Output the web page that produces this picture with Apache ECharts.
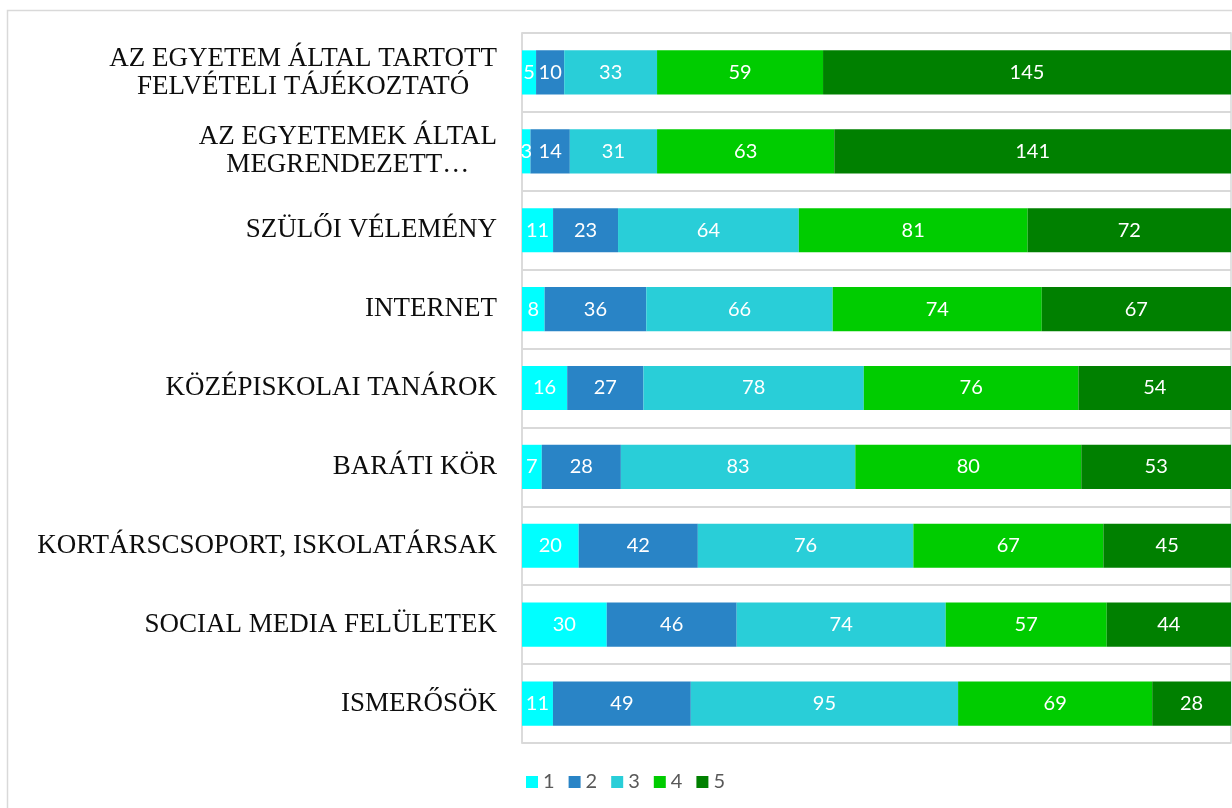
<!DOCTYPE html>
<html>
<head>
<meta charset="utf-8">
<script src="https://cdn.jsdelivr.net/npm/echarts@6/dist/echarts.min.js"></script>
<style>
html,body{margin:0;padding:0;background:#fff;}
#chart{width:1232px;height:808px;}
</style>
</head>
<body>
<div id="chart"></div>
<script>
const categories = [
  "AZ EGYETEM ÁLTAL TARTOTT\nFELVÉTELI TÁJÉKOZTATÓ",
  "AZ EGYETEMEK ÁLTAL\nMEGRENDEZETT…",
  "SZÜLŐI VÉLEMÉNY",
  "INTERNET",
  "KÖZÉPISKOLAI TANÁROK",
  "BARÁTI KÖR",
  "KORTÁRSCSOPORT, ISKOLATÁRSAK",
  "SOCIAL MEDIA FELÜLETEK",
  "ISMERŐSÖK"
];
const seriesNames = ["1", "2", "3", "4", "5"];
const s1 = [5, 3, 11, 8, 16, 7, 20, 30, 11];
const s2 = [10, 14, 23, 36, 27, 28, 42, 46, 49];
const s3 = [33, 31, 64, 66, 78, 83, 76, 74, 95];
const s4 = [59, 63, 81, 74, 76, 80, 67, 57, 69];
const s5 = [145, 141, 72, 67, 54, 53, 45, 44, 28];
const colors = ["#00FFFF", "#2984C6", "#29CED8", "#00CC00", "#008000"];

const all = [s1, s2, s3, s4, s5];
const totals = categories.map((_, i) => all.reduce((a, s) => a + s[i], 0));

const series = all.map((vals, k) => ({
  name: seriesNames[k],
  type: 'bar',
  stack: 'total',
  barCategoryGap: '44%',
  itemStyle: { color: colors[k] },
  label: {
    show: true,
    position: 'inside',
    color: '#ffffff',
    fontFamily: 'Lato',
    fontSize: 20,
    formatter: p => String(vals[p.dataIndex])
  },
  data: vals.map((v, i) => v / totals[i] * 100)
}));

const chart = echarts.init(document.getElementById('chart'));
chart.setOption({
  animation: false,
  backgroundColor: '#ffffff',
  graphic: [{
    type: 'rect',
    shape: { x: 7.5, y: 10.5, width: 1240, height: 830 },
    style: { fill: 'none', stroke: '#D9D9D9', lineWidth: 1.5 },
    silent: true,
    z: -1
  }],
  grid: {
    left: 522, right: 1, top: 33, bottom: 65,
    show: true, borderColor: '#D9D9D9', borderWidth: 1.5,
    containLabel: false
  },
  legend: {
    data: seriesNames,
    left: 521,
    top: 767,
    itemWidth: 12,
    itemHeight: 12,
    itemGap: 14,
    icon: 'rect',
    textStyle: { fontFamily: 'Lato', fontSize: 20, color: '#595959' }
  },
  xAxis: {
    type: 'value',
    min: 0,
    max: 100,
    show: false
  },
  yAxis: {
    type: 'category',
    data: categories,
    inverse: true,
    axisLine: { show: true, lineStyle: { color: '#D9D9D9', width: 1.5 } },
    axisTick: { show: false },
    splitLine: { show: true, lineStyle: { color: '#D9D9D9', width: 2 } },
    axisLabel: {
      margin: 25,
      formatter: v => '{a|' + v.split('\n').join('}\n{a|') + '}',
      rich: {
        a: {
          fontFamily: 'Liberation Serif',
          fontSize: 27,
          lineHeight: 28,
          color: '#0D0D0D',
          align: 'center'
        }
      }
    }
  },
  series: series
});
</script>
</body>
</html>
